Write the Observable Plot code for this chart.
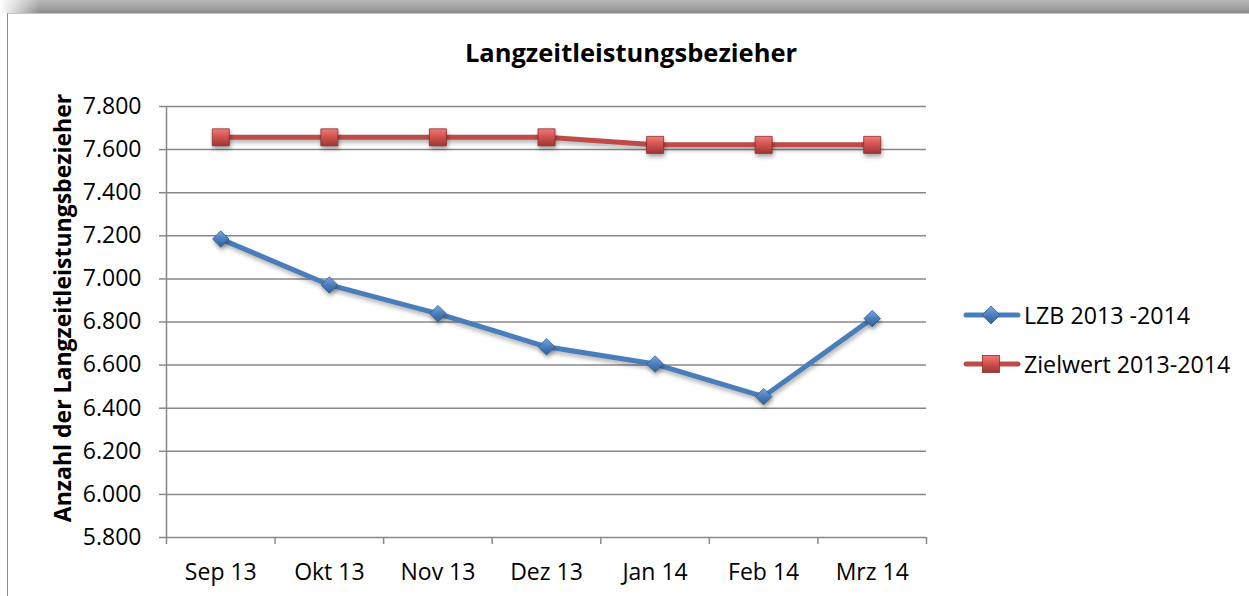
<!DOCTYPE html>
<html>
<head>
<meta charset="utf-8">
<script src="https://cdn.jsdelivr.net/npm/d3@7"></script>
<script src="https://cdn.jsdelivr.net/npm/@observablehq/plot@0.6"></script>
<style>
  html, body { margin: 0; padding: 0; background: #fff; }
  #wrap { position: relative; width: 1249px; height: 596px; overflow: hidden; font-family: "Open Sans", sans-serif; }
  #shadow { position: absolute; left: 0; top: 0; width: 1249px; height: 13px;
    background: linear-gradient(to bottom, #b8b8b8 0%, #a4a4a4 50%, #8c8c8c 100%); }
  #shadowfade { position: absolute; left: 0; top: 0; width: 40px; height: 14px;
    background: linear-gradient(to right, #fff 0%, rgba(255,255,255,0) 100%); }
  #frame { position: absolute; left: 7px; top: 13px; width: 1300px; height: 700px;
    border-left: 1.5px solid #8a8a8a; border-top: 1.5px solid #c4c4c4; box-sizing: border-box; }
  #title { position: absolute; left: 331px; width: 600px; top: 35px; text-align: center;
    font-weight: bold; font-size: 25.5px; line-height: 34px; color: #000; }
  #ytitle { position: absolute; left: 62px; top: 308px; transform: translate(-50%, -50%) rotate(-90deg);
    white-space: nowrap; font-weight: bold; font-size: 23px; color: #000; }
  #plot { position: absolute; left: 0; top: 0; }
  .leg { position: absolute; left: 963px; height: 30px; display: flex; align-items: center;
    font-size: 23.2px; color: #000; white-space: nowrap; }
  .leg svg { margin-right: 3px; overflow: visible; }
</style>
</head>
<body>
<div id="wrap">
  <div id="shadow"></div>
  <div id="shadowfade"></div>
  <div id="frame"></div>
  <div id="plot"></div>
  <div id="title"></div>
  <div id="ytitle"></div>
  <div id="legend"></div>
</div>
<script>
// ---- data ----
const months = ["Sep 13", "Okt 13", "Nov 13", "Dez 13", "Jan 14", "Feb 14", "Mrz 14"];
const lzb = [7185, 6972, 6839, 6685, 6605, 6454, 6816];
const ziel = [7657, 7657, 7657, 7657, 7622, 7622, 7622];
const yTicks = [5800, 6000, 6200, 6400, 6600, 6800, 7000, 7200, 7400, 7600, 7800];
const seriesNames = ["LZB 2013 -2014", "Zielwert 2013-2014"];
const titleText = "Langzeitleistungsbezieher";
const yTitleText = "Anzahl der Langzeitleistungsbezieher";

const blue = "#4a7ebb";
const red = "#be4b48";
const grid = "#888888";

const idx = months.map((m, i) => i);
const bounds = months.map((m, i) => i - 0.5).concat([months.length - 0.5]);
const lzbData = idx.map(i => ({x: i, y: lzb[i]}));
const zielData = idx.map(i => ({x: i, y: ziel[i]}));
const fmt = d => d3.format(",")(d).replace(/,/g, ".");

const chart = Plot.plot({
  width: 1249,
  height: 596,
  marginLeft: 166,
  marginRight: 323,
  marginTop: 106,
  marginBottom: 59,
  style: {background: "transparent", fontFamily: "'Open Sans', sans-serif", fontSize: "23px", color: "#000", overflow: "visible"},
  x: {type: "linear", domain: [-0.5, months.length - 0.5]},
  y: {domain: [5800, 7800]},
  marks: [
    Plot.ruleY(yTicks, {stroke: grid, strokeWidth: 1.5}),
    Plot.ruleX([-0.5], {stroke: grid, strokeWidth: 1.5}),
    Plot.axisY(yTicks, {tickSize: 7, tickPadding: 18, tickFormat: fmt, stroke: grid, strokeWidth: 1.5, fontSize: 23, label: null}),
    Plot.axisX(bounds, {tickSize: 7, tickFormat: () => "", stroke: grid, strokeWidth: 1.5, label: null}),
    Plot.axisX(idx, {tickSize: 0, tickPadding: 26, tickFormat: i => months[i], fontSize: 23, label: null}),
    Plot.line(lzbData, {x: "x", y: "y", stroke: blue, strokeWidth: 5, strokeLinejoin: "round", strokeLinecap: "round"}),
    Plot.line(zielData, {x: "x", y: "y", stroke: red, strokeWidth: 5, strokeLinejoin: "round", strokeLinecap: "round"}),
    Plot.dot(lzbData, {x: "x", y: "y", symbol: "diamond2", r: 7.4, fill: "url(#gblue)", stroke: "#2f5d95", strokeWidth: 0.8}),
    Plot.dot(zielData, {x: "x", y: "y", symbol: "square", r: 9.6, fill: "url(#gred)", stroke: "#8c2d2b", strokeWidth: 0.8})
  ]
});

const defsHTML = `
<defs>
  <linearGradient id="gblue" x1="0" y1="0" x2="0" y2="1">
    <stop offset="0" stop-color="#7aa8e0"/>
    <stop offset="0.5" stop-color="#4a7ebb"/>
    <stop offset="1" stop-color="#2f5f9c"/>
  </linearGradient>
  <linearGradient id="gred" x1="0" y1="0" x2="0" y2="1">
    <stop offset="0" stop-color="#f27a78"/>
    <stop offset="0.45" stop-color="#d25451"/>
    <stop offset="1" stop-color="#9e3633"/>
  </linearGradient>
</defs>`;
d3.select(chart).insert("g", ":first-child").html(defsHTML);
d3.select(chart).selectAll("g[aria-label='line'] path").style("filter", "drop-shadow(1.5px 3px 2px rgba(0,0,0,0.3))");
d3.select(chart).selectAll("g[aria-label='dot'] path").style("filter", "drop-shadow(1.5px 3px 2px rgba(0,0,0,0.35))");
document.getElementById("plot").appendChild(chart);

document.getElementById("title").textContent = titleText;
document.getElementById("ytitle").textContent = yTitleText;

// legend
const legend = document.getElementById("legend");
const legTops = [300, 349];
seriesNames.forEach((name, i) => {
  const item = document.createElement("div");
  item.className = "leg";
  item.style.top = legTops[i] + "px";
  const col = i === 0 ? blue : red;
  const marker = i === 0
    ? `<path d="M28,7 L37,16 L28,25 L19,16 Z" fill="url(#lgb)" stroke="#2f5d95" stroke-width="0.8"/>`
    : `<rect x="19.5" y="7.5" width="17" height="17" fill="url(#lgr)" stroke="#8c2d2b" stroke-width="0.8"/>`;
  item.innerHTML = `<svg width="58" height="32" viewBox="0 0 58 32">
    <defs>
      <linearGradient id="lgb" x1="0" y1="0" x2="0" y2="1"><stop offset="0" stop-color="#7aa8e0"/><stop offset="0.5" stop-color="#4a7ebb"/><stop offset="1" stop-color="#2f5f9c"/></linearGradient>
      <linearGradient id="lgr" x1="0" y1="0" x2="0" y2="1"><stop offset="0" stop-color="#f27a78"/><stop offset="0.45" stop-color="#d25451"/><stop offset="1" stop-color="#9e3633"/></linearGradient>
    </defs>
    <line x1="3" y1="16" x2="55" y2="16" stroke="${col}" stroke-width="5" stroke-linecap="round"/>
    ${marker}
  </svg><span>${name}</span>`;
  legend.appendChild(item);
});
</script>
</body>
</html>
